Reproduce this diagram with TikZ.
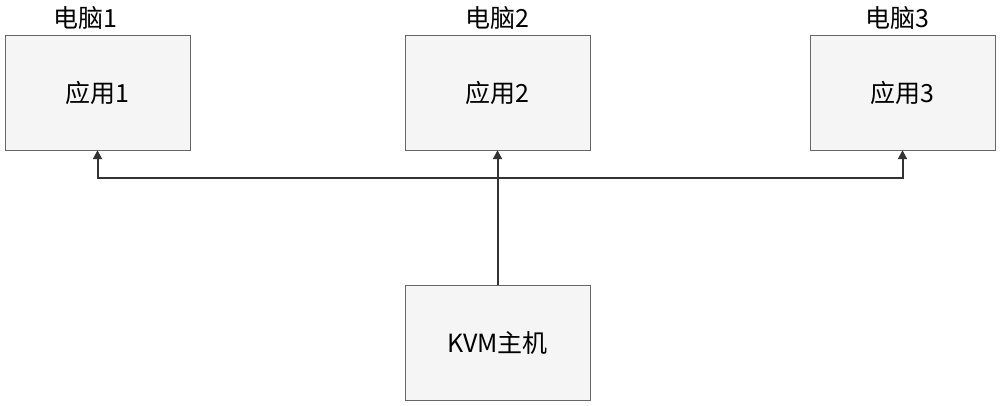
\documentclass[tikz,border=0pt]{standalone}
\usepackage{fontspec}
\setmainfont{Carlito}
\newfontfamily\cjk{Noto Sans CJK SC}
\usetikzlibrary{arrows.meta}
\tikzset{box/.style={draw=black!60,fill=black!4,minimum width=185pt,minimum height=115pt,inner sep=0pt,font=\cjk\fontsize{25pt}{27pt}\selectfont},
lbl/.style={font=\cjk\fontsize{25pt}{27pt}\selectfont,inner sep=0pt},
conn/.style={draw=black!80,line width=2pt,-{Triangle[length=9pt,width=9pt]}}}
\begin{document}
\begin{tikzpicture}[x=1pt,y=-1pt]
\useasboundingbox (0,0) rectangle (1000,406);
\node[box] (b1) at (97.5,92.5) {应用1};
\node[box] (b2) at (497.5,92.5) {应用2};
\node[box] (b3) at (902.5,92.5) {应用3};
\node[box] (k) at (497.5,342.5) {KVM主机};
\node[lbl] (l1) at (85,18) {电脑1};
\node[lbl] (l2) at (497,18) {电脑2};
\node[lbl] (l3) at (897,18) {电脑3};
\coordinate (j) at (497.5,178);
\draw[draw=black!80,line width=2pt] (k.north) -- (j);
\draw[conn] (j) -| (b1.south);
\draw[conn] (j) -| (b3.south);
\draw[conn] (j) -- (b2.south);
\end{tikzpicture}
\end{document}
